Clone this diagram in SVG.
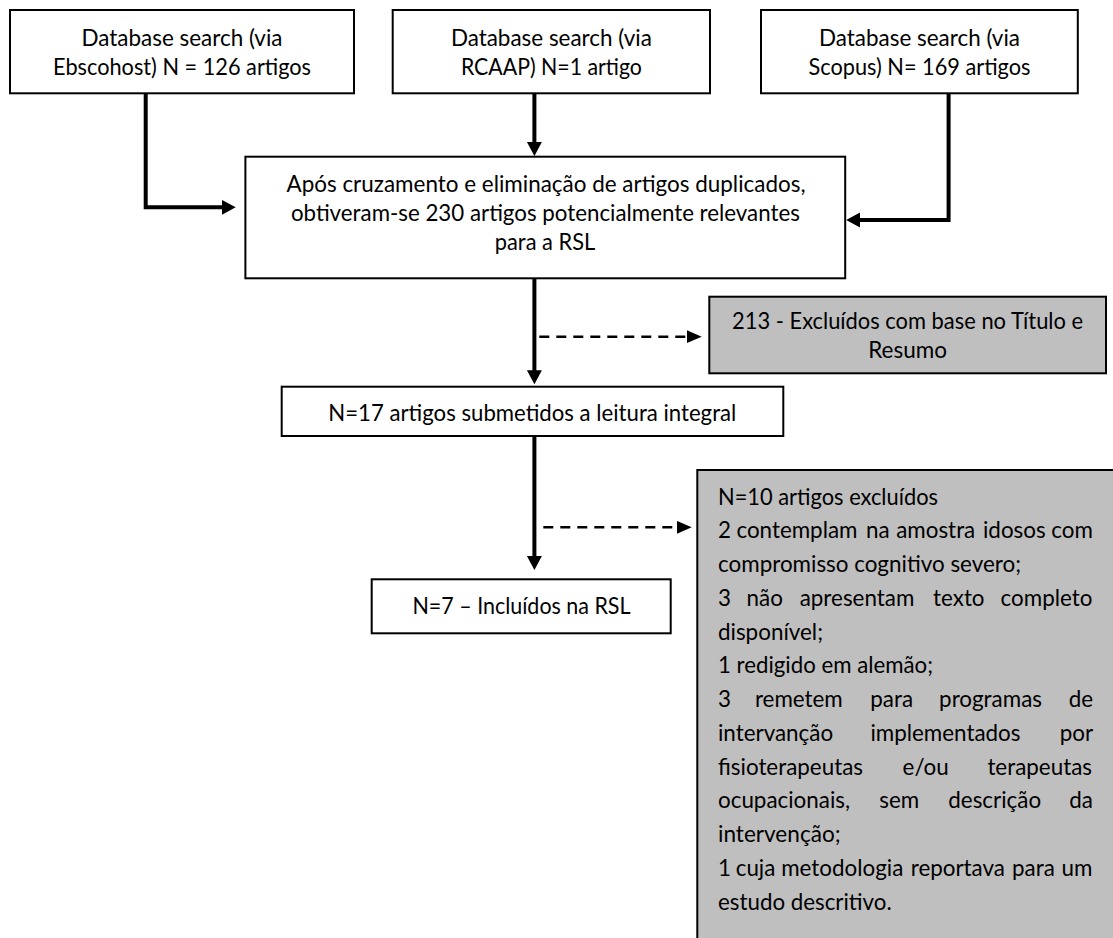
<svg xmlns="http://www.w3.org/2000/svg" width="1113" height="938" viewBox="0 0 1113 938">
<defs>
<style>
.box{fill:#fff;stroke:#000;stroke-width:2}
.grey{fill:#bfbfbf;stroke:#000;stroke-width:2}
text{font-family:Lato,"Liberation Sans",sans-serif;font-size:22.4px;fill:#000}
.c{text-anchor:middle}
.conn{fill:none;stroke:#000;stroke-width:4}
.dash{fill:none;stroke:#000;stroke-width:2.5;stroke-dasharray:10 7}
</style>
<marker id="ah" markerUnits="userSpaceOnUse" markerWidth="16" markerHeight="16" refX="2" refY="7.5" orient="auto">
<path d="M0,0 L14,7.5 L0,15 z" fill="#000"/>
</marker>
<marker id="ahd" markerUnits="userSpaceOnUse" markerWidth="16" markerHeight="14" refX="2" refY="6.5" orient="auto">
<path d="M0,0 L15,6.5 L0,13 z" fill="#000"/>
</marker>
</defs>
<rect width="1113" height="938" fill="#fff"/>

<g id="connectors">
<path class="conn" d="M145.7,93 V207.3 H223.7" marker-end="url(#ah)"/>
<path class="conn" d="M534.4,93 V144" marker-end="url(#ah)"/>
<path class="conn" d="M948.6,93 V220 H858.2" marker-end="url(#ah)"/>
<path class="conn" d="M534.4,278 V372.3" marker-end="url(#ah)"/>
<path class="conn" d="M534.4,436 V558" marker-end="url(#ah)"/>
<path class="dash" d="M539.3,336.7 H688.7" marker-end="url(#ahd)"/>
<path class="dash" d="M543.3,527.3 H678.7" marker-end="url(#ahd)"/>
</g>

<g id="ebscohost">
<rect class="box" x="10" y="10" width="344" height="83.3"/>
<text class="c" x="182" y="45.5" textLength="201" lengthAdjust="spacingAndGlyphs">Database search (via</text>
<text class="c" x="182" y="74.5" textLength="258" lengthAdjust="spacingAndGlyphs">Ebscohost) N = 126 artigos</text>
</g>

<g id="rcaap">
<rect class="box" x="392.7" y="10" width="317.3" height="83.3"/>
<text class="c" x="551.4" y="45.5" textLength="201" lengthAdjust="spacingAndGlyphs">Database search (via</text>
<text class="c" x="551.4" y="74.5" textLength="181" lengthAdjust="spacingAndGlyphs">RCAAP) N=1 artigo</text>
</g>

<g id="scopus">
<rect class="box" x="761" y="10" width="316.8" height="83.3"/>
<text class="c" x="919.5" y="45.5" textLength="201" lengthAdjust="spacingAndGlyphs">Database search (via</text>
<text class="c" x="919.5" y="74.5" textLength="222" lengthAdjust="spacingAndGlyphs">Scopus) N= 169 artigos</text>
</g>

<g id="merged">
<rect class="box" x="245.4" y="156.7" width="599.8" height="121.6"/>
<text class="c" x="546" y="192" textLength="519" lengthAdjust="spacingAndGlyphs">Após cruzamento e eliminação de artigos duplicados,</text>
<text class="c" x="545.4" y="221" textLength="509" lengthAdjust="spacingAndGlyphs">obtiveram-se 230 artigos potencialmente relevantes</text>
<text class="c" x="545" y="250" textLength="100.4" lengthAdjust="spacingAndGlyphs">para a RSL</text>
</g>

<g id="excluded-title">
<rect class="grey" x="709.3" y="296.7" width="396.7" height="76.6"/>
<text class="c" x="907.6" y="329.3" textLength="351" lengthAdjust="spacingAndGlyphs">213 - Excluídos com base no Título e</text>
<text class="c" x="907.6" y="357.6" textLength="78.8" lengthAdjust="spacingAndGlyphs">Resumo</text>
</g>

<g id="fulltext">
<rect class="box" x="281.7" y="386.7" width="501.6" height="49.3"/>
<text class="c" x="532.3" y="421" textLength="408" lengthAdjust="spacingAndGlyphs">N=17 artigos submetidos a leitura integral</text>
</g>

<g id="included">
<rect class="box" x="371.7" y="579.3" width="299" height="54"/>
<text class="c" x="521.5" y="614" textLength="218" lengthAdjust="spacingAndGlyphs">N=7 – Incluídos na RSL</text>
</g>

<g id="excluded-fulltext">
<rect class="grey" x="697.3" y="470" width="430" height="480"/>
<text x="718" y="504.5" textLength="220" lengthAdjust="spacingAndGlyphs">N=10 artigos excluídos</text>
<text y="538.25"><tspan x="718">2</tspan> <tspan x="736.4">contemplam</tspan> <tspan x="865.9">na</tspan> <tspan x="896.2">amostra</tspan> <tspan x="983">idosos</tspan> <tspan x="1051.3">com</tspan></text>
<text x="718" y="572" textLength="303" lengthAdjust="spacingAndGlyphs">compromisso cognitivo severo;</text>
<text y="605.75"><tspan x="718">3</tspan> <tspan x="746.6">não</tspan> <tspan x="799.7">apresentam</tspan> <tspan x="933.1">texto</tspan> <tspan x="1000.6">completo</tspan></text>
<text x="718" y="639.5" textLength="105" lengthAdjust="spacingAndGlyphs">disponível;</text>
<text x="718" y="673.25" textLength="215" lengthAdjust="spacingAndGlyphs">1 redigido em alemão;</text>
<text y="707"><tspan x="718">3</tspan> <tspan x="754.9">remetem</tspan> <tspan x="870.3">para</tspan> <tspan x="939.1">programas</tspan> <tspan x="1068.8">de</tspan></text>
<text y="740.75"><tspan x="718">intervanção</tspan> <tspan x="870.4">implementados</tspan> <tspan x="1059.7">por</tspan></text>
<text y="774.5"><tspan x="718">fisioterapeutas</tspan> <tspan x="902.6">e/ou</tspan> <tspan x="987.4">terapeutas</tspan></text>
<text y="808.25"><tspan x="718">ocupacionais,</tspan> <tspan x="879.3">sem</tspan> <tspan x="948.3">descrição</tspan> <tspan x="1069.2">da</tspan></text>
<text x="718" y="842" textLength="122.6" lengthAdjust="spacingAndGlyphs">intervenção;</text>
<text y="875.75"><tspan x="718">1</tspan> <tspan x="735.7">cuja</tspan> <tspan x="781.2">metodologia</tspan> <tspan x="910.7">reportava</tspan> <tspan x="1012">para</tspan> <tspan x="1061.5">um</tspan></text>
<text x="718" y="909.5" textLength="173.7" lengthAdjust="spacingAndGlyphs">estudo descritivo.</text>
</g>
</svg>
